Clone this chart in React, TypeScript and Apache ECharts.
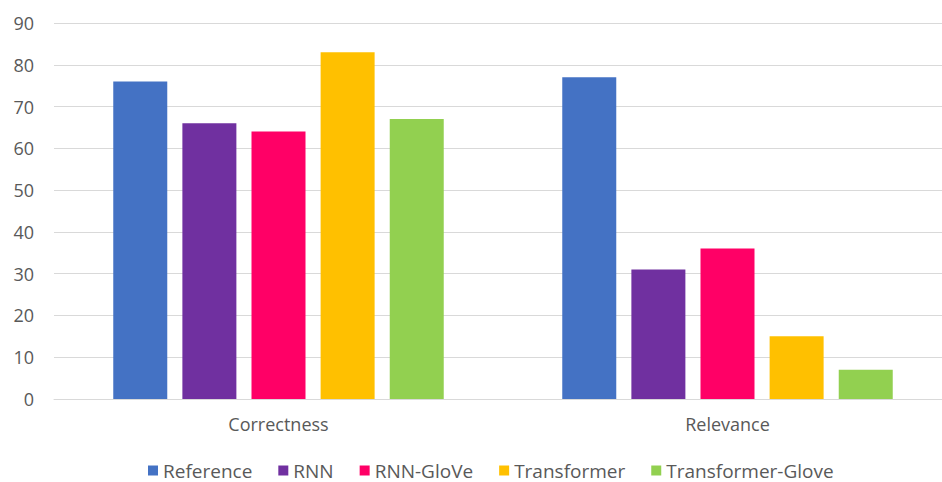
import React, { useEffect, useRef } from "react";
import * as echarts from "echarts";

const categories = ["Correctness", "Relevance"];
const seriesNames = ["Reference", "RNN", "RNN-GloVe", "Transformer", "Transformer-Glove"];
const referenceValues = [76, 77];
const rnnValues = [66, 31];
const rnnGloveValues = [64, 36];
const transformerValues = [83, 15];
const transformerGloveValues = [67, 7];
const colors = ["#4472C4", "#7030A0", "#FF0066", "#FFC000", "#92D050"];

export default function App() {
  const ref = useRef<HTMLDivElement>(null);
  useEffect(() => {
    document.body.style.margin = "0";
    document.body.style.overflow = "hidden";
    const chart = echarts.init(ref.current!, undefined, { renderer: "svg" });
    const data = [referenceValues, rnnValues, rnnGloveValues, transformerValues, transformerGloveValues];
    const font = "'Open Sans', 'Noto Sans', sans-serif";
    chart.setOption({
      animation: false,
      color: colors,
      textStyle: { fontFamily: font },
      grid: { left: 54, top: 23, width: 898, height: 376, containLabel: false },
      legend: {
        top: 461,
        left: 148,
        padding: 0,
        itemWidth: 10,
        itemHeight: 10,
        itemGap: 26,
        icon: "rect",
        textStyle: { fontSize: 19, color: "#595959", fontFamily: font },
        data: seriesNames,
      },
      xAxis: {
        type: "category",
        data: categories,
        axisLine: { lineStyle: { color: "#d9d9d9", width: 1 } },
        axisTick: { show: false },
        axisLabel: { fontSize: 18, color: "#595959", margin: 16, fontFamily: font },
      },
      yAxis: {
        type: "value",
        min: 0,
        max: 90,
        interval: 10,
        axisLine: { show: false },
        axisTick: { show: false },
        splitLine: { lineStyle: { color: "#d9d9d9", width: 1 } },
        axisLabel: { fontSize: 18, color: "#595959", margin: 20, fontFamily: font },
      },
      series: seriesNames.map((name, i) => ({
        name,
        type: "bar",
        data: data[i],
        barWidth: 54,
        barGap: "28%",
        itemStyle: { color: colors[i] },
      })),
    });
    return () => chart.dispose();
  }, []);
  return (
    <div style={{ width: 942, height: 482, overflow: "hidden", position: "relative" }}>
      <div ref={ref} style={{ width: 960, height: 482 }} />
    </div>
  );
}
